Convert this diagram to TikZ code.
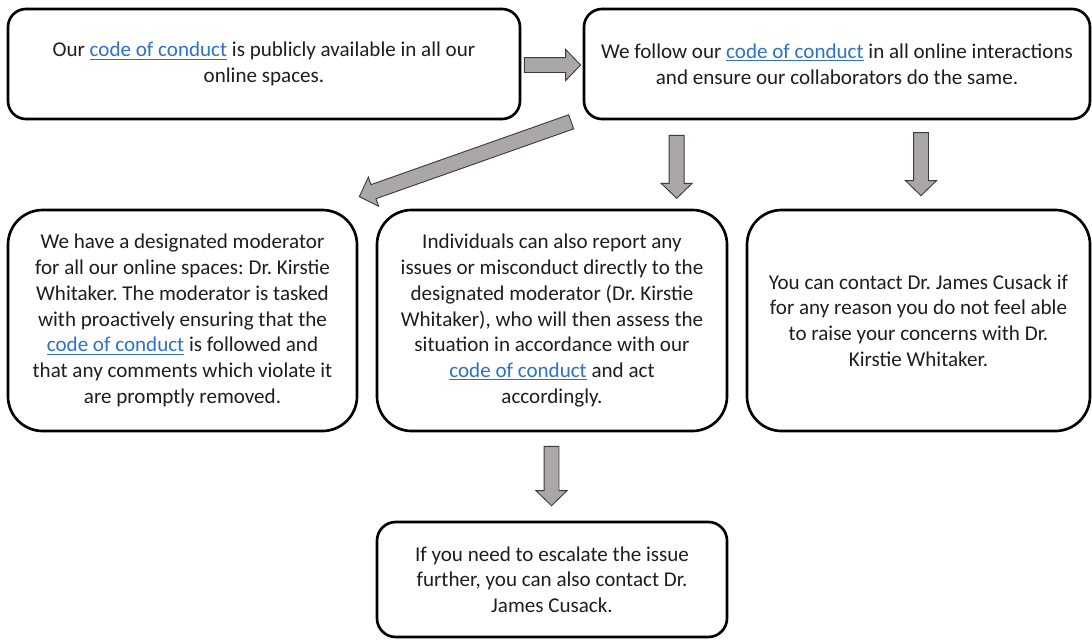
\documentclass[tikz,border=0pt]{standalone}
\usepackage{fontspec}
\setmainfont{Carlito}
\usepackage{xcolor}
\usetikzlibrary{calc}

\definecolor{linkblue}{RGB}{46,112,204}
\definecolor{textgray}{RGB}{30,30,30}
\definecolor{arrowgray}{RGB}{171,167,167}
\definecolor{arrowedge}{RGB}{60,60,60}

\newcommand{\coc}{{\color{linkblue}\underline{code of conduct}}}
% fat grey arrow from #1 to #2
\newcommand{\blockarrow}[2]{%
  \coordinate (ba-t) at (#1);
  \coordinate (ba-h) at ($(#2)!11.25pt!(#1)$);
  \filldraw[bigarrow] ($(ba-t)!5.6pt!90:(ba-h)$) -- ($(ba-h)!5.6pt!-90:(ba-t)$)
    -- ($(ba-h)!11.6pt!-90:(ba-t)$) -- (#2) -- ($(ba-h)!11.6pt!90:(ba-t)$)
    -- ($(ba-h)!5.6pt!90:(ba-t)$) -- ($(ba-t)!5.6pt!-90:(ba-h)$) -- cycle;}

\begin{document}
\begin{tikzpicture}[x=0.75pt,y=-0.75pt,
    box/.style={draw=black,line width=2pt,fill=white,rounded corners=#1,
      align=center,text=textgray,inner sep=0pt,
      font=\fontsize{15.8pt}{19.3pt}\selectfont\frenchspacing},
    box/.default=13.5pt,
    bigarrow/.style={fill=arrowgray,draw=arrowedge,line width=0.7pt,line join=miter}]
\useasboundingbox (0,0) rectangle (1092,639);

\node[box,minimum width=384pt,minimum height=82.5pt] (public) at (264,64)
  {Our \coc{} is publicly available in all our\\ online spaces.};
\node[box,minimum width=379.5pt,minimum height=82.5pt] (follow) at (837,64)
  {We follow our \coc{} in all online interactions\\ and ensure our collaborators do the same.};

\node[box=26pt,minimum width=261.75pt,minimum height=165.75pt] (moderator) at (182.5,320.5)
  {We have a designated moderator\\ for all our online spaces: Dr. Kirstie\\
   Whitaker. The moderator is tasked\\ with proactively ensuring that the\\
   \coc{} is followed and\\ that any comments which violate it\\ are promptly removed.};
\node[box=26pt,minimum width=262.5pt,minimum height=165.75pt] (report) at (552,320.5)
  {Individuals can also report any\\ issues or misconduct directly to the\\
   designated moderator (Dr. Kirstie\\ Whitaker), who will then assess the\\
   situation in accordance with our\\ \coc{} and act\\ accordingly.};
\node[box=26pt,minimum width=257.25pt,minimum height=165.75pt] (cusack) at (918.5,320.5)
  {You can contact Dr. James Cusack if\\ for any reason you do not feel able\\
   to raise your concerns with Dr.\\ Kirstie Whitaker.};

\node[box=14pt,minimum width=262.5pt,minimum height=86.25pt] (escalate) at (552,579.5)
  {If you need to escalate the issue\\ further, you can also contact Dr.\\ James Cusack.};

% arrow ends
\coordinate (pf-s) at ($(public.east)+(3,1)$);
\coordinate (pf-e) at ($(follow.west)+(-2,1)$);
\coordinate (fm-s) at ($(follow.south west)+(-11.5,1.5)$);
\coordinate (fm-e) at ($(moderator.north east)+(1,-12)$);
\coordinate (fr-s) at ($(follow.south west)+(94,15)$);
\coordinate (fr-e) at ($(fr-s)+(0,63)$);
\coordinate (fc-s) at ($(cusack.north)+(2.5,-76)$);
\coordinate (fc-e) at ($(cusack.north)+(2.5,-13)$);
\coordinate (re-s) at ($(report.south)+(-0.5,14)$);
\coordinate (re-e) at ($(escalate.north)+(-0.5,-15)$);

\blockarrow{pf-s}{pf-e}
\blockarrow{fm-s}{fm-e}
\blockarrow{fr-s}{fr-e}
\blockarrow{fc-s}{fc-e}
\blockarrow{re-s}{re-e}
\end{tikzpicture}
\end{document}
